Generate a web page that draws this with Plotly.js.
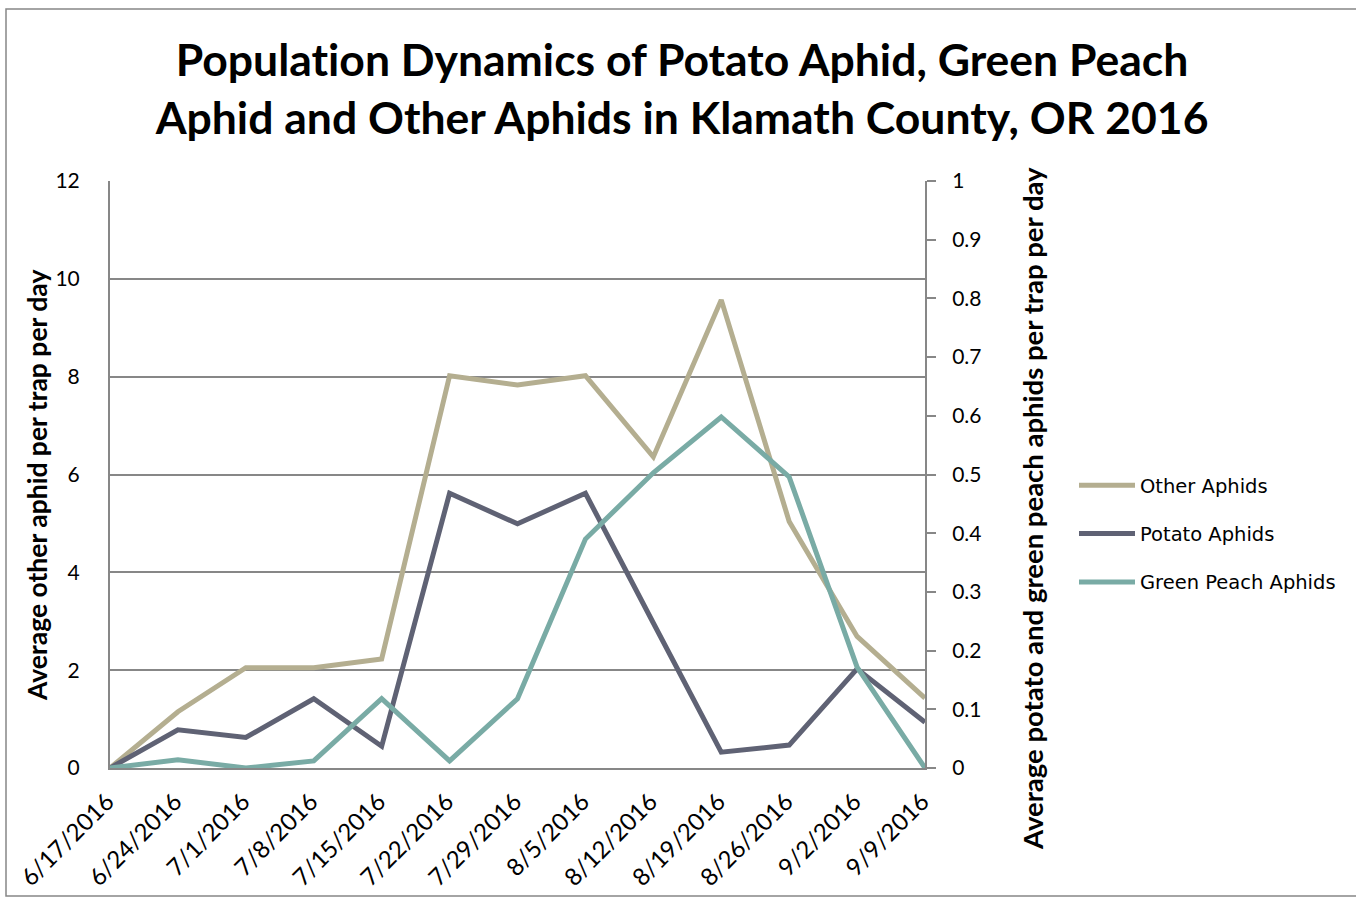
<!DOCTYPE html>
<html>
<head>
<meta charset="utf-8">
<script src="https://cdn.plot.ly/plotly-3.0.1.min.js"></script>
<style>
  html, body { margin: 0; padding: 0; background: #ffffff; }
  #chart { width: 1356px; height: 899px; }
  #chart text { font-variant-ligatures: none; font-feature-settings: "liga" 0; }
</style>
</head>
<body>
<div id="chart"></div>
<script>
// Weekly trap dates
const dates = ["6/17/2016", "6/24/2016", "7/1/2016", "7/8/2016", "7/15/2016", "7/22/2016",
               "7/29/2016", "8/5/2016", "8/12/2016", "8/19/2016", "8/26/2016", "9/2/2016", "9/9/2016"];

// Other aphids per trap per day (left axis)
const otherAphids = [0, 1.15, 2.05, 2.05, 2.23, 8.02, 7.83, 8.02, 6.36, 9.57, 5.04, 2.69, 1.43];

// Potato aphids per trap per day (right axis)
const potatoAphids = [0, 0.065, 0.052, 0.118, 0.037, 0.468, 0.416, 0.468, 0.247, 0.027, 0.039, 0.169, 0.078];

// Green peach aphids per trap per day (right axis)
const greenPeachAphids = [0, 0.014, 0, 0.012, 0.118, 0.012, 0.118, 0.39, 0.503, 0.598, 0.496, 0.172, 0];

const seriesNames = ["Other Aphids", "Potato Aphids", "Green Peach Aphids"];
const seriesColors = ["#b4ae90", "#5f6274", "#79aba5"];

const gridGray = "#878787";
const fontFace = "Lato, 'Open Sans', sans-serif";

const traces = [
  { x: dates, y: otherAphids, name: seriesNames[0], yaxis: "y", legendgroup: "a" },
  { x: dates, y: potatoAphids, name: seriesNames[1], yaxis: "y2", legendgroup: "b" },
  { x: dates, y: greenPeachAphids, name: seriesNames[2], yaxis: "y2", legendgroup: "c" }
].map((t, i) => Object.assign(t, {
  type: "scatter",
  mode: "lines",
  line: { color: seriesColors[i], width: 5 },
  hoverinfo: "x+y+name"
}));

// Plot area in pixels: left 110, right 925, top 181, bottom 768
const L = 110, R = 925, T = 181, B = 768, W = 1356, H = 899;
const px = v => (v - L) / (R - L);
const py = v => (B - v) / (B - T);

const layout = {
  width: W,
  height: H,
  margin: { l: L, r: W - R, t: T, b: H - B, pad: 0 },
  paper_bgcolor: "#ffffff",
  plot_bgcolor: "#ffffff",
  font: { family: fontFace, color: "#000000", size: 21 },
  title: {
    text: "Population Dynamics of Potato Aphid, Green Peach<br>Aphid and Other Aphids in Klamath County, OR 2016",
    font: { family: fontFace, size: 44.5, color: "#000000", weight: "bold" },
    x: 0.503,
    xanchor: "center",
    y: 1 - 76 / H,
    yanchor: "middle",
    yref: "container"
  },
  xaxis: {
    type: "category",
    range: [0, dates.length - 1],
    showgrid: false,
    showline: true,
    linecolor: gridGray,
    linewidth: 2,
    ticks: "",
    tickangle: -45,
    ticklabelshift: -3,
    ticklabelstandoff: 8,
    tickfont: { family: fontFace, size: 24 },
    zeroline: false,
    fixedrange: true
  },
  yaxis: {
    range: [0, 12],
    dtick: 2,
    tick0: 0,
    showgrid: true,
    gridcolor: gridGray,
    gridwidth: 2,
    showline: true,
    linecolor: gridGray,
    linewidth: 2,
    ticks: "",
    ticklabelstandoff: 24,
    tickfont: { family: fontFace, size: 21 },
    zeroline: false,
    fixedrange: true
  },
  yaxis2: {
    overlaying: "y",
    side: "right",
    range: [0, 1],
    dtick: 0.1,
    tick0: 0,
    showgrid: false,
    showline: true,
    linecolor: gridGray,
    linewidth: 2,
    ticks: "outside",
    ticklen: 9,
    tickwidth: 2,
    tickcolor: gridGray,
    ticklabelstandoff: 12,
    tickfont: { family: fontFace, size: 21 },
    zeroline: false,
    fixedrange: true
  },
  showlegend: true,
  legend: {
    x: px(1074),
    y: py(466),
    xanchor: "left",
    yanchor: "top",
    bgcolor: "rgba(0,0,0,0)",
    font: { family: "'DejaVu Sans', sans-serif", size: 19.5, color: "#000000" },
    traceorder: "grouped",
    tracegroupgap: 20,
    itemwidth: 56
  },
  shapes: [
    {
      type: "rect",
      xref: "paper", yref: "paper",
      x0: px(6), x1: px(1362), y0: py(896), y1: py(9),
      line: { color: gridGray, width: 1.5 },
      fillcolor: "rgba(0,0,0,0)",
      layer: "below"
    }
  ],
  annotations: [
    {
      text: "Average other aphid per trap per day",
      xref: "paper", yref: "paper",
      x: px(37), y: py(486),
      xanchor: "center", yanchor: "middle",
      textangle: -90,
      showarrow: false,
      font: { family: fontFace, size: 26.5, color: "#000000", weight: "bold" }
    },
    {
      text: "Average potato and green peach aphids per trap per day",
      xref: "paper", yref: "paper",
      x: px(1032), y: py(509),
      xanchor: "center", yanchor: "middle",
      textangle: -90,
      showarrow: false,
      font: { family: fontFace, size: 27.5, color: "#000000", weight: "bold" }
    }
  ]
};

Plotly.newPlot("chart", traces, layout, { displayModeBar: false, staticPlot: true });
</script>
</body>
</html>
